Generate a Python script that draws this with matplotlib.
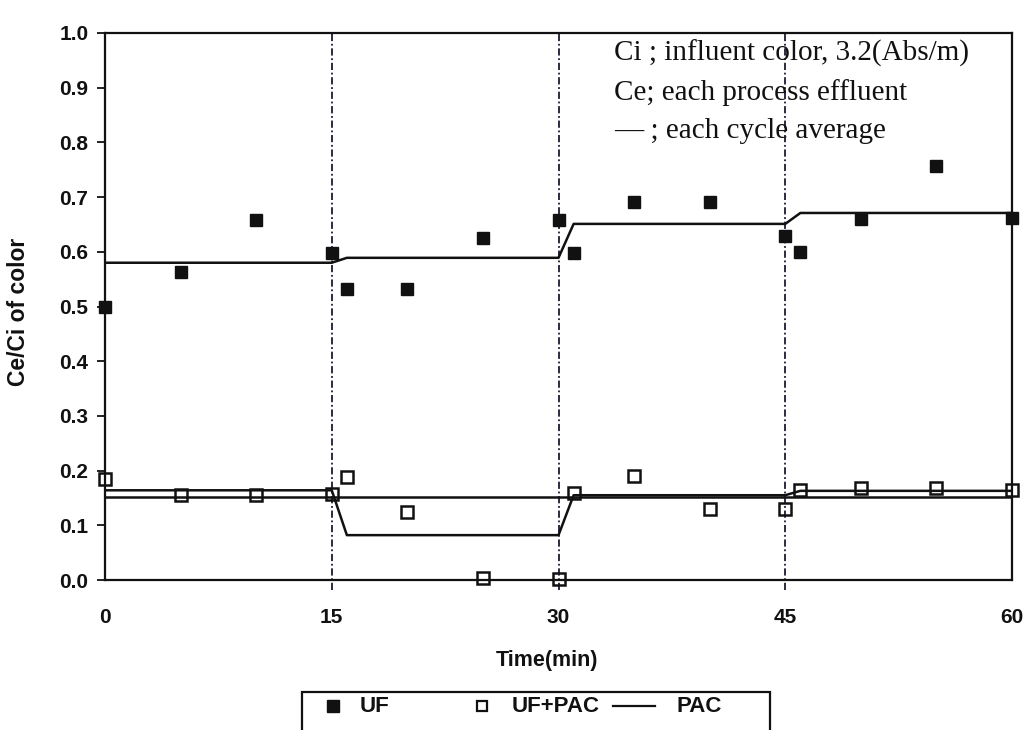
import matplotlib
matplotlib.use("Agg")
import matplotlib.pyplot as plt
from matplotlib.lines import Line2D
from matplotlib.patches import Rectangle

# sampling times (min) and effluent/influent colour ratios
uf_time = [0, 5, 10, 15, 16, 20, 25, 30, 31, 35, 40, 45, 46, 50, 55, 60]
uf_ratio = [0.50, 0.563, 0.658, 0.598, 0.532, 0.532, 0.625, 0.658,
            0.598, 0.691, 0.691, 0.629, 0.600, 0.660, 0.757, 0.662]

ufpac_time = [0, 5, 10, 15, 16, 20, 25, 30, 31, 35, 40, 45, 46, 50, 55, 60]
ufpac_ratio = [0.185, 0.155, 0.155, 0.157, 0.188, 0.124, 0.003, 0.002,
               0.159, 0.190, 0.130, 0.130, 0.165, 0.168, 0.168, 0.165]

# cycle averages: each cycle runs from cycle_start to cycle_end
cycle_start = [0, 16, 31, 46]
cycle_end = [15, 30, 45, 60]
uf_avg = [0.580, 0.589, 0.651, 0.671]
ufpac_avg = [0.164, 0.082, 0.155, 0.163]

pac_time = [0, 60]
pac_ratio = [0.152, 0.152]

cycle_bounds = [15, 30, 45]
x_ticks = [0, 15, 30, 45, 60]


def step_path(starts, ends, levels):
    xs, ys = [], []
    for s, e, v in zip(starts, ends, levels):
        xs += [s, e]
        ys += [v, v]
    return xs, ys


W, H = 1034, 730
fig = plt.figure(figsize=(W / 100, H / 100), dpi=100)
fig.patch.set_facecolor("white")

ax_l, ax_r, ax_t, ax_b = 105, 1012, 33, 580
ax = fig.add_axes([ax_l / W, 1 - ax_b / H, (ax_r - ax_l) / W, (ax_b - ax_t) / H])

ink = "#111111"
sans = "Liberation Sans"
serif = "Liberation Serif"

for xb in cycle_bounds:
    ax.plot([xb, xb], [-0.018, 1.0], color="#1a1a33", lw=1.3,
            linestyle=(0, (4, 1.5, 1, 1.5)), clip_on=False, zorder=1)

xs, ys = step_path(cycle_start, cycle_end, uf_avg)
ax.plot(xs, ys, color=ink, lw=1.8, zorder=2)
xs, ys = step_path(cycle_start, cycle_end, ufpac_avg)
ax.plot(xs, ys, color=ink, lw=1.8, zorder=2)
ax.plot(pac_time, pac_ratio, color=ink, lw=1.8, zorder=2)

ax.plot(uf_time, uf_ratio, linestyle="none", marker="s", ms=9,
        mfc=ink, mec=ink, clip_on=False, zorder=4)
ax.plot(ufpac_time, ufpac_ratio, linestyle="none", marker="s", ms=8.5,
        mfc="none", mec=ink, mew=1.8, clip_on=False, zorder=4)

ax.set_xlim(0, 60)
ax.set_ylim(0, 1.0)
ax.set_xticks(x_ticks)
ax.set_yticks([i / 10 for i in range(11)])
ax.set_yticklabels([f"{i / 10:.1f}" for i in range(11)])
ax.tick_params(axis="x", length=0, pad=20, labelsize=15, colors=ink)
ax.tick_params(axis="y", direction="out", length=6, width=1.3, pad=6,
               labelsize=15, colors=ink)
for lab in ax.get_xticklabels() + ax.get_yticklabels():
    lab.set_fontfamily(sans)
    lab.set_fontweight("bold")

for sp in ax.spines.values():
    sp.set_color(ink)
    sp.set_linewidth(1.6)

ax.set_xlabel("Time(min)", fontsize=15.5, fontfamily=sans, fontweight="bold", color=ink)
ax.xaxis.set_label_coords(0.487, -0.128)
ax.set_ylabel("Ce/Ci of color", fontsize=16.5, fontfamily=sans, fontweight="bold",
              color=ink)
ax.yaxis.set_label_coords(-0.083, 0.49)

note = ["Ci ; influent color, 3.2(Abs/m)",
        "Ce; each process effluent",
        "\u2014 ; each cycle average"]
for i, line in enumerate(note):
    ax.text(33.7, 0.963 - i * 0.071, line, fontsize=21, fontfamily=serif,
            color=ink, va="center", ha="left", zorder=5)

# legend box, cut by the lower edge of the figure
def fx(px):
    return px / W


def fy(py):
    return 1 - py / H


fig.patches.append(Rectangle((fx(302), fy(760)), fx(770) - fx(302), fy(692) - fy(760),
                             transform=fig.transFigure, fill=False,
                             edgecolor=ink, lw=1.6))
ly = fy(706)
fig.lines.append(Line2D([fx(333)], [ly], transform=fig.transFigure, marker="s",
                        ms=8, mfc=ink, mec=ink, linestyle="none"))
fig.text(fx(360), ly, "UF", fontsize=16, fontfamily=sans, fontweight="bold",
         va="center", color=ink)
fig.lines.append(Line2D([fx(482)], [ly], transform=fig.transFigure, marker="s",
                        ms=7.5, mfc="none", mec=ink, mew=1.6, linestyle="none"))
fig.text(fx(512), ly, "UF+PAC", fontsize=16, fontfamily=sans, fontweight="bold",
         va="center", color=ink)
fig.lines.append(Line2D([fx(613), fx(655)], [ly, ly], transform=fig.transFigure,
                        color=ink, lw=1.6))
fig.text(fx(677), ly, "PAC", fontsize=16, fontfamily=sans, fontweight="bold",
         va="center", color=ink)

fig.savefig("out.png", dpi=100, facecolor="white")
